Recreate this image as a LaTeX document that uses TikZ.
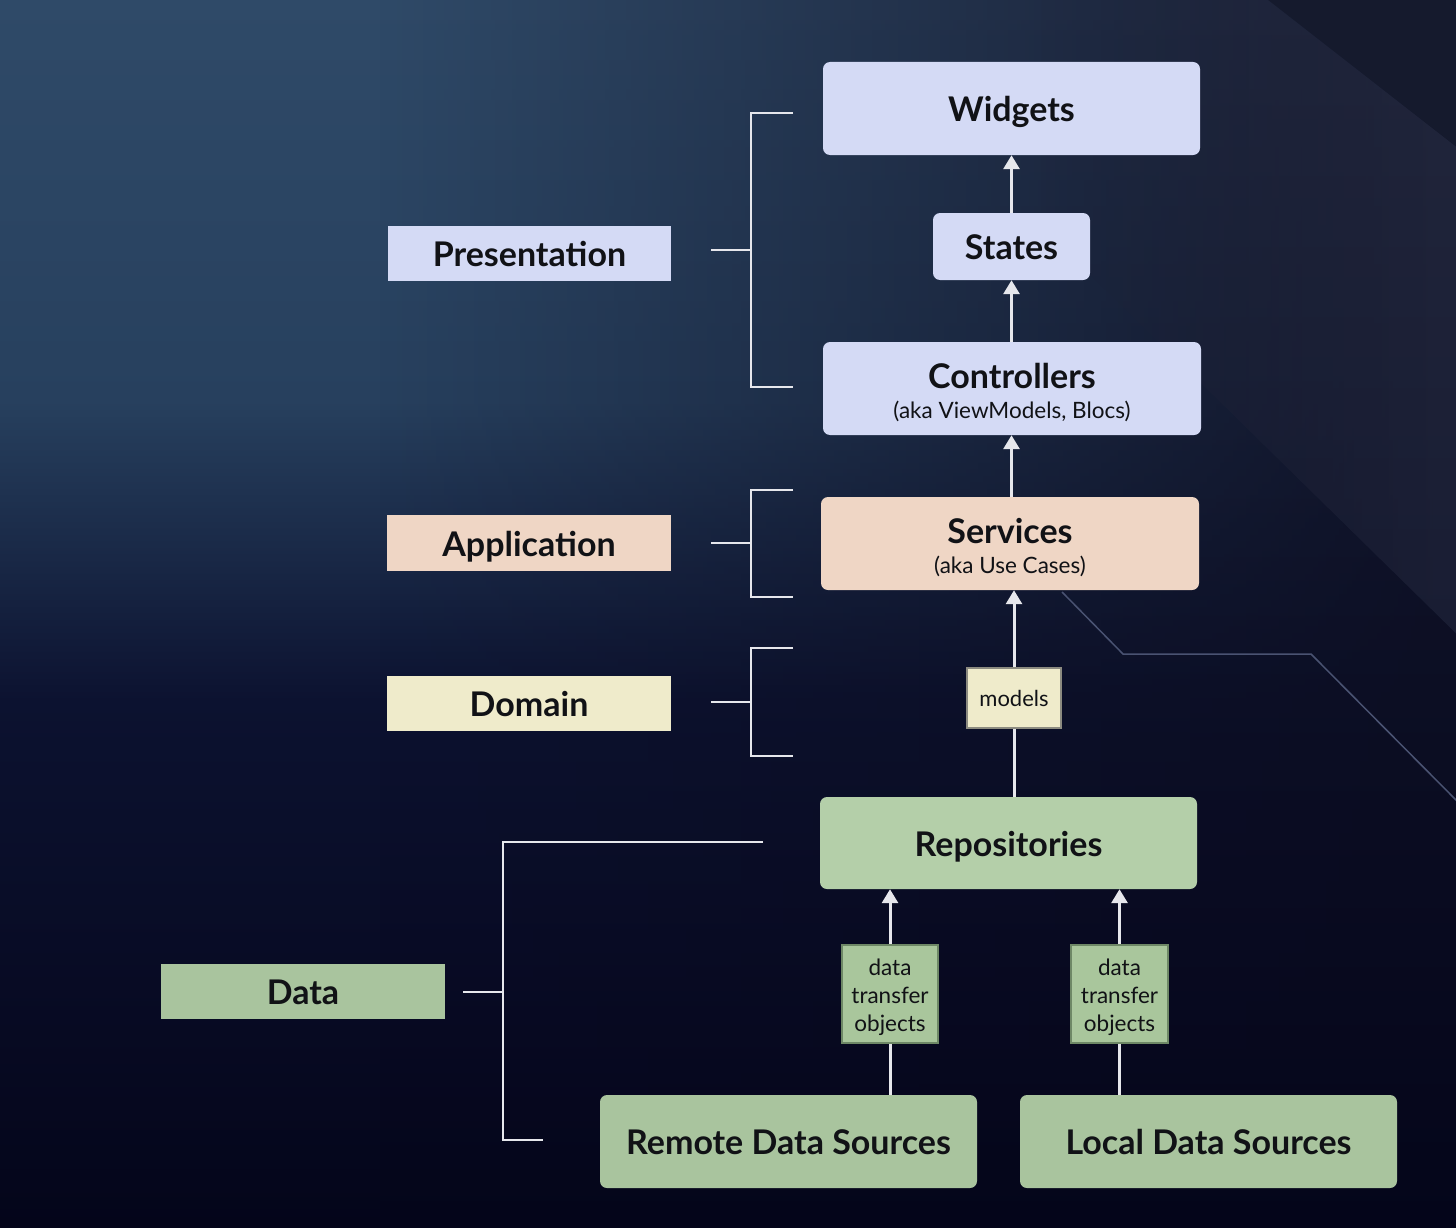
\documentclass[tikz,border=0pt]{standalone}
\usepackage{fontspec}
\setmainfont{Lato}
\usetikzlibrary{arrows.meta,fadings,calc}

\definecolor{bgA}{HTML}{2F4A68}
\definecolor{bgB}{HTML}{27405E}
\definecolor{bgC}{HTML}{0C1230}
\definecolor{bgD}{HTML}{04051A}
\definecolor{ovA}{HTML}{161A2F}
\definecolor{ovB}{HTML}{0A0C26}
\definecolor{bandA}{HTML}{22273D}
\definecolor{bandB}{HTML}{1A1E34}
\definecolor{trc}{HTML}{151A2D}
\definecolor{lav}{HTML}{D4DAF5}
\definecolor{peach}{HTML}{EFD6C5}
\definecolor{cream}{HTML}{EFEBCB}
\definecolor{greenA}{HTML}{B4CFA9}
\definecolor{greenB}{HTML}{A9C49E}
\definecolor{dtoc}{HTML}{A9C69C}
\definecolor{dtob}{HTML}{6E8866}
\definecolor{modb}{HTML}{8C8B80}
\definecolor{txt}{HTML}{111216}
\definecolor{wline}{HTML}{E6E7EC}
\definecolor{deco}{HTML}{4A5372}

\tikzfading[name=fadeleft, left color=transparent!100, right color=transparent!0]

\newcommand{\ttlfont}{\fontsize{34}{40}\selectfont\bfseries}
\newcommand{\subfont}{\fontsize{22.5}{27}\selectfont\mdseries}

\tikzset{
  box/.style={rounded corners=7pt, inner sep=0pt, align=center, text=txt, font=\ttlfont,
    text height=33pt, text depth=7pt},
  twoline/.style={text height=65pt, text depth=6pt},
  lbl/.style={inner sep=0pt, text=txt, font=\ttlfont, text height=33pt, text depth=7pt},
  smallbox/.style={inner sep=0pt, align=center, text=txt, line width=2.5pt},
  brk/.style={draw=wline, line width=2.5pt},
  arr/.style={draw=wline, line width=3pt, -{Triangle[width=16pt,length=14pt]}},
  plain/.style={draw=wline, line width=3pt},
}

\begin{document}
\begin{tikzpicture}[x=1pt,y=-1pt]
\useasboundingbox (0,0) rectangle (1456,1228);
% background
\shade[top color=bgA, bottom color=bgB] (-1,-1) rectangle (1457,401);
\shade[top color=bgB, bottom color=bgC] (-1,400) rectangle (1457,701);
\shade[top color=bgC, bottom color=bgD] (-1,700) rectangle (1457,1229);
\shade[top color=ovA, middle color=ovB, bottom color=bgD, path fading=fadeleft] (380,-1) rectangle (1457,1229);
\shade[top color=bandA, bottom color=bandB, path fading=fadeleft]
  (1040,-1) -- (1267,-1) -- (1457,147) -- (1457,634) -- (1201,383) -- (1040,225) -- cycle;
\fill[trc] (1267,-1) -- (1457,-1) -- (1457,147) -- cycle;
\draw[deco, line width=1.5pt] (1062,592) -- (1123,654) -- (1311,654) -- (1457,801);

% main boxes
\node[box, fill=lav, minimum width=377pt, minimum height=93pt] (widgets) at (1011.5,108.5) {Widgets};
\node[box, fill=lav, minimum width=157pt, minimum height=67pt] (states) at (1011.5,246.5) {States};
\node[box, twoline, fill=lav, minimum width=378pt, minimum height=93pt] (controllers) at (1012,388.5)
  {Controllers\\[-10pt]{\subfont (aka ViewModels, Blocs)}};
\node[box, twoline, fill=peach, minimum width=378pt, minimum height=93pt] (services) at (1010,543.5)
  {Services\\[-10pt]{\subfont (aka Use Cases)}};
\node[smallbox, fill=cream, draw=modb, line width=2pt, minimum width=94pt, minimum height=60pt,
  font=\fontsize{22}{26}\selectfont] (models) at (1014,698) {models};
\node[smallbox, fill=dtoc, draw=dtob, minimum width=96pt, minimum height=98pt,
  text height=80pt, text depth=5pt, font=\fontsize{22.5}{28}\selectfont] (dto1) at (890,994) {data\\transfer\\objects};
\node[smallbox, fill=dtoc, draw=dtob, minimum width=97pt, minimum height=98pt,
  text height=80pt, text depth=5pt, font=\fontsize{22.5}{28}\selectfont] (dto2) at (1119.5,994) {data\\transfer\\objects};
\node[box, fill=greenA, minimum width=377pt, minimum height=92pt] (repo) at (1008.5,843) {Repositories};
\node[box, fill=greenB, minimum width=377pt, minimum height=93pt] (remote) at (788.5,1141.5) {Remote Data Sources};
\node[box, fill=greenB, minimum width=377pt, minimum height=93pt] (local) at (1208.5,1141.5) {Local Data Sources};

% layer labels
\node[lbl, fill=lav, minimum width=283pt, minimum height=55pt] (presentation) at (529.5,253.5) {Presentation};
\node[lbl, fill=peach, minimum width=284pt, minimum height=56pt] (application) at (529,543) {Application};
\node[lbl, fill=cream, minimum width=284pt, minimum height=55pt] (domain) at (529,703.5) {Domain};
\node[lbl, fill=greenB, minimum width=284pt, minimum height=55pt] (data) at (303,991.5) {Data};

% bracket coordinates
\coordinate (pS) at (711,250);  \coordinate (pV) at (751,250);
\coordinate (pT) at (793,113);  \coordinate (pB) at (793,387);
\coordinate (aS) at (711,543);  \coordinate (aV) at (751,543);
\coordinate (aT) at (793,490);  \coordinate (aB) at (793,597);
\coordinate (dS) at (711,702);  \coordinate (dV) at (751,702);
\coordinate (dT) at (793,648);  \coordinate (dB) at (793,756);
\coordinate (tS) at (463,992);  \coordinate (tV) at (503,992);
\coordinate (tT) at (763,842);  \coordinate (tB) at (543,1140);

\draw[brk] (pS) -- (pV);
\draw[brk] (pT) -| (pV) |- (pB);
\draw[brk] (aS) -- (aV);
\draw[brk] (aT) -| (aV) |- (aB);
\draw[brk] (dS) -- (dV);
\draw[brk] (dT) -| (dV) |- (dB);
\draw[brk] (tS) -- (tV);
\draw[brk] (tT) -| (tV) |- (tB);

% arrows
\draw[arr] (states.north) -- (widgets.south);
\draw[arr] (controllers.north -| states.north) -- (states.south);
\draw[arr] (services.north -| states.north) -- (controllers.south -| states.north);
\draw[plain] (models.south |- repo.north) -- (models.south);
\draw[arr] (models.north) -- (models.north |- services.south);
\draw[arr] (dto1.north) -- (dto1.north |- repo.south);
\draw[plain] (dto1.south |- remote.north) -- (dto1.south);
\draw[arr] (dto2.north) -- (dto2.north |- repo.south);
\draw[plain] (dto2.south |- local.north) -- (dto2.south);
\end{tikzpicture}
\end{document}
